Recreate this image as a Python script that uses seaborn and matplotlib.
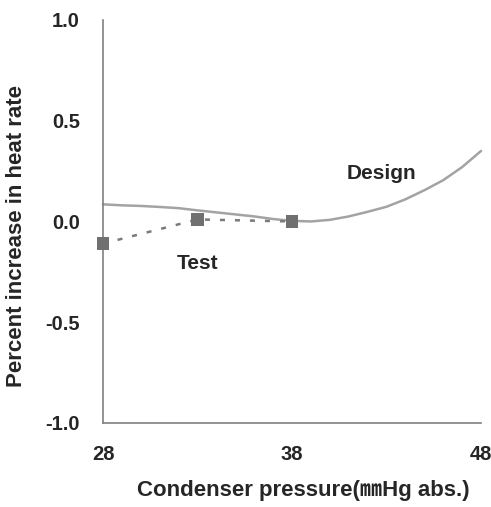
import numpy as np
import pandas as pd
import seaborn as sns
import matplotlib
matplotlib.use("Agg")
import matplotlib.pyplot as plt

design_x = [28, 29, 30, 31, 32, 33, 34, 35, 36, 37, 38, 39, 40, 41, 42, 43, 44, 45, 46, 47, 48]
design_y = [0.085, 0.08, 0.077, 0.072, 0.066, 0.055, 0.045, 0.035, 0.025, 0.012, 0.003,
            0.0, 0.008, 0.025, 0.048, 0.073, 0.11, 0.155, 0.205, 0.27, 0.35]
test_x = [28, 33, 38]
test_y = [-0.11, 0.01, 0.0]
x_ticks = [28, 38, 48]
x_minor = [33, 43]
y_ticks = [-1.0, -0.5, 0.0, 0.5, 1.0]

sns.set_style("white")
plt.rcParams['font.family'] = ['Liberation Sans', 'Noto Sans CJK JP', 'DejaVu Sans']

fig = plt.figure(figsize=(4.91, 5.07), dpi=100)
ax = fig.add_axes([0.2098, 0.1657, 0.77, 0.795])

dd = pd.DataFrame({"x": design_x, "y": design_y})
td = pd.DataFrame({"x": test_x, "y": test_y})

sns.lineplot(data=dd, x="x", y="y", ax=ax, color="#a3a3a3", lw=1.8, clip_on=False)
sns.lineplot(data=td, x="x", y="y", ax=ax, color="#7a7a7a", lw=1.8,
             linestyle=(0, (2, 4)), clip_on=False)
sns.scatterplot(data=td, x="x", y="y", ax=ax, color="#707070", marker="s",
                s=85, edgecolor="none", zorder=5, clip_on=False)

ax.set_xlim(28, 48)
ax.set_ylim(-1.0, 1.0)
ax.set_xticks(x_ticks)
ax.set_xticks(x_minor, minor=True)
ax.set_yticks(y_ticks)
ax.set_xticklabels([str(v) for v in x_ticks], fontsize=14.5, fontweight="bold")
ax.set_yticklabels([f"{v:.1f}" for v in y_ticks], fontsize=14.5, fontweight="bold")
ax.tick_params(axis="both", which="both", direction="in", length=5, width=1,
               color="#808080")
ax.tick_params(axis="y", pad=16.5)
ax.tick_params(axis="x", pad=16)

for s in ["top", "right"]:
    ax.spines[s].set_visible(False)
for s in ["left", "bottom"]:
    ax.spines[s].set_color("#808080")
    ax.spines[s].set_linewidth(1.2)

ax.set_xlabel("Condenser pressure(㎜Hg abs.)", fontsize=16, fontweight="bold")
ax.set_ylabel("Percent increase in heat rate", fontsize=16, fontweight="bold")
ax.xaxis.set_label_coords(0.529, -0.141)
ax.yaxis.set_label_coords(-0.2, 0.464)

ax.text(42.75, 0.24, "Design", fontsize=15, fontweight="bold", ha="center", va="center")
ax.text(33, -0.21, "Test", fontsize=15, fontweight="bold", ha="center", va="center")

fig.savefig("out.png", dpi=100)
